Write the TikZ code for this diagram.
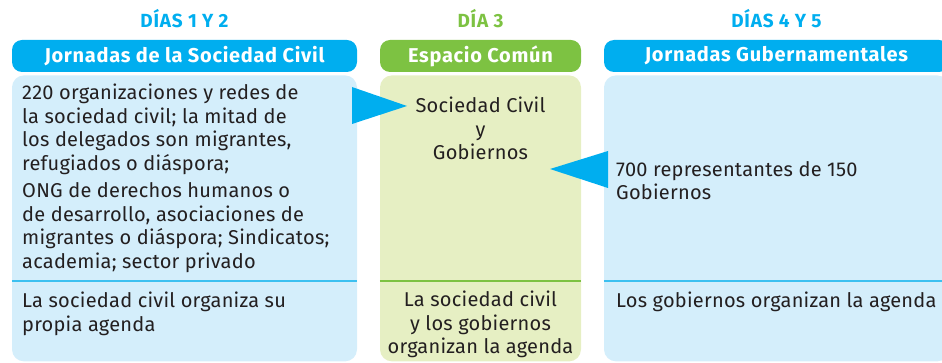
\documentclass[tikz,border=0pt]{standalone}
\usepackage{fontspec}
\setmainfont{Fira Sans}
\usetikzlibrary{positioning}

\definecolor{gfmdblue}{HTML}{00AEEF}
\definecolor{gfmdlightblue}{HTML}{D4EEFB}
\definecolor{gfmdgreen}{HTML}{7DC242}
\definecolor{gfmdlightgreen}{HTML}{E6EFC3}
\definecolor{gfmdline}{HTML}{3CC0F0}
\definecolor{gfmdtext}{HTML}{231F20}

\tikzset{
    daylabel/.style={font=\bfseries\fontsize{19}{21}\selectfont\addfontfeatures{LetterSpace=4}, inner sep=0pt},
    headbar/.style={rounded corners=10pt, minimum height=32pt, inner sep=0pt,
        text=white, font=\bfseries\fontsize{20}{22}\selectfont\addfontfeatures{LetterSpace=3.5}},
    panel/.style={rounded corners=12pt, minimum height=286pt, inner sep=0pt},
    bodytext/.style={inner sep=0pt, text=gfmdtext,
        font=\fontsize{20}{23.5}\selectfont\addfontfeatures{LetterSpace=1.2}},
    pointer/.style={fill=gfmdblue},
}

\begin{document}
\begin{tikzpicture}[x=1pt, y=-1pt]
    \useasboundingbox (0,0) rectangle (942,363);

    % header bars
    \node[headbar, fill=gfmdblue, minimum width=345pt] (hdrcivil) at (184.5,56) {Jornadas de la Sociedad Civil};
    \node[headbar, fill=gfmdgreen, minimum width=201pt] (hdrcommon) at (480.5,56) {Espacio Común};
    \node[headbar, fill=gfmdblue, minimum width=345pt] (hdrgov) at (776.5,56) {Jornadas Gubernamentales};

    \node[daylabel, text=gfmdblue, above=12pt of hdrcivil] (daycivil) {DÍAS 1 Y 2};
    \node[daylabel, text=gfmdgreen, above=12pt of hdrcommon] (daycommon) {DÍA 3};
    \node[daylabel, text=gfmdblue, above=12pt of hdrgov] (daygov) {DÍAS 4 Y 5};

    % panels
    \node[panel, fill=gfmdlightblue, minimum width=345pt, below=3pt of hdrcivil] (bodycivil) {};
    \node[panel, fill=gfmdlightgreen, minimum width=201pt, below=3pt of hdrcommon] (bodycommon) {};
    \node[panel, fill=gfmdlightblue, minimum width=345pt, below=3pt of hdrgov] (bodygov) {};

    \coordinate (divider) at (0,281);
    \draw[gfmdline, line width=1.5pt] (bodycivil.west |- divider) -- (bodycivil.east |- divider);
    \draw[gfmdgreen, line width=1.5pt] (bodycommon.west |- divider) -- (bodycommon.east |- divider);
    \draw[gfmdline, line width=1.5pt] (bodygov.west |- divider) -- (bodygov.east |- divider);

    % who takes part
    \node[bodytext, anchor=north west, align=left] (civilwho) at (22,84) {220 organizaciones y redes de\\
        la sociedad civil; la mitad de\\
        los delegados son migrantes,\\
        refugiados o diáspora;\\[4pt]
        ONG de derechos humanos o\\
        de desarrollo, asociaciones de\\
        migrantes o diáspora; Sindicatos;\\
        academia; sector privado};
    \node[bodytext, anchor=north, align=center] (commonwho) at (480.5,97) {Sociedad Civil\\y\\Gobiernos};
    \node[bodytext, anchor=north west, align=left] (govwho) at (616,161) {700 representantes de 150\\Gobiernos};

    % who sets the agenda
    \node[bodytext, anchor=north west, align=left] (civilagenda) at (22,292) {La sociedad civil organiza su\\propia agenda};
    \node[bodytext, anchor=north, align=center] (commonagenda) at (480.5,291) {La sociedad civil\\y los gobiernos\\organizan la agenda};
    \node[bodytext, anchor=north west, align=left] (govagenda) at (616,292) {Los gobiernos organizan la agenda};

    % pointers into the common space
    \fill[pointer] (352,87) -- (352,124) -- (407,106) -- cycle;
    \fill[pointer] (608,151) -- (608,188) -- (550,169) -- cycle;
\end{tikzpicture}
\end{document}
